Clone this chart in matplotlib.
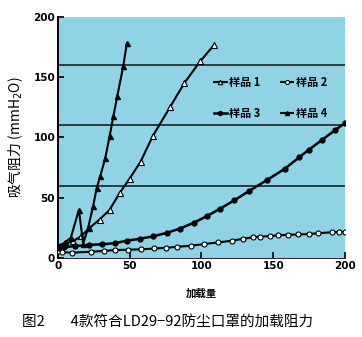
import matplotlib
matplotlib.use("Agg")
import matplotlib.pyplot as plt

plt.rcParams['font.family'] = ['Noto Sans CJK SC', 'DejaVu Sans']

# sample 1 (open triangles)
s1_x = [0, 5, 10.5, 16, 22, 29, 36, 43, 50, 57.6, 66, 78, 88, 99, 109]
s1_y = [10, 12, 14, 18, 25, 32, 40, 54, 66, 80, 101, 125, 145, 163, 177]

# sample 2 (open circles)
s2_x = [0, 2.5, 9.5, 23, 32, 40, 49, 58, 67, 75, 83, 93, 102, 111.5, 121, 129,
        136, 141, 148, 153.5, 160.5, 167.5, 175, 181, 191, 196, 200]
s2_y = [6, 5, 4.5, 5.3, 6, 6.7, 7, 7.3, 8, 8.5, 9.4, 10.3, 11.7, 13, 14.4, 16,
        17.3, 17.8, 18.3, 18.9, 19.4, 19.6, 20, 20.6, 21.5, 21.7, 21.7]

# sample 3 (filled circles)
s3_x = [0, 4, 12, 22, 31, 40, 48, 57, 66, 76, 85, 95, 104, 113, 123, 133,
        146, 158, 168, 175, 184, 193, 200]
s3_y = [8, 9, 10, 11, 11.5, 12.5, 14.5, 16, 18, 21, 24.5, 29.5, 35, 41, 48,
        55.5, 65, 74, 83.5, 90, 98, 106, 112]

# sample 4 (filled triangles)
s4_x = [0, 5, 9, 14.6, 17.6, 21, 24.5, 27, 29.5, 33, 36, 38.7, 41.3, 45.5, 48]
s4_y = [10, 13, 17, 40, 12, 25, 43, 58, 68, 83, 101, 118, 134, 159, 178]

ref_lines = [60, 110, 160]
ticks = [0, 50, 100, 150, 200]
labels = ['样品 1', '样品 3', '样品 2', '样品 4']

fig = plt.figure(figsize=(3.62, 3.37), dpi=100)
ax = fig.add_axes([0.160, 0.234, 0.793, 0.716])
ax.set_facecolor('#8fd3e4')

for y in ref_lines:
    ax.plot([0, 200], [y, y], color='#111111', lw=1.1, zorder=1)

h1, = ax.plot(s1_x, s1_y, color='black', lw=1.5, marker='^', ms=4,
              mfc='white', mec='black', mew=0.8, zorder=3)
h2, = ax.plot(s2_x, s2_y, color='black', lw=1.5, marker='o', ms=3.6,
              mfc='white', mec='black', mew=0.8, zorder=3)
h3, = ax.plot(s3_x, s3_y, color='black', lw=1.8, marker='o', ms=3.5,
              mfc='black', mec='black', zorder=3)
h4, = ax.plot(s4_x, s4_y, color='black', lw=1.5, marker='^', ms=3.6,
              mfc='black', mec='black', zorder=3)

ax.set_xlim(0, 200)
ax.set_ylim(0, 200)
ax.set_xticks(ticks)
ax.set_yticks(ticks)
ax.tick_params(direction='in', length=4, width=1.2, labelsize=7.5, pad=2)
for lab in ax.get_xticklabels() + ax.get_yticklabels():
    lab.set_family(['Liberation Sans Narrow', 'DejaVu Sans'])
    lab.set_fontweight('bold')

for side in ['top', 'right']:
    ax.spines[side].set_visible(False)
ax.spines['left'].set_linewidth(1.4)
ax.spines['bottom'].set_linewidth(0.6)

leg = ax.legend([h1, h3, h2, h4], labels, ncol=2, loc='upper left',
                bbox_to_anchor=(0.51, 0.795), frameon=False, fontsize=8,
                handlelength=1.1, handletextpad=0.2, columnspacing=1.9,
                labelspacing=1.55, markerscale=0.8)
for t in leg.get_texts():
    t.set_fontweight('bold')

ax.set_ylabel('吸气阻力 (mmH$_2$O)', fontsize=10, labelpad=6)
ax.set_xlabel('加载量', fontsize=7.5, fontweight='bold', labelpad=13)

fig.text(0.06, 0.045, '图2        4款符合LD29−92防尘口罩的加载阻力', fontsize=10.5,
         ha='left', va='center')

fig.savefig('out.png', dpi=100)
